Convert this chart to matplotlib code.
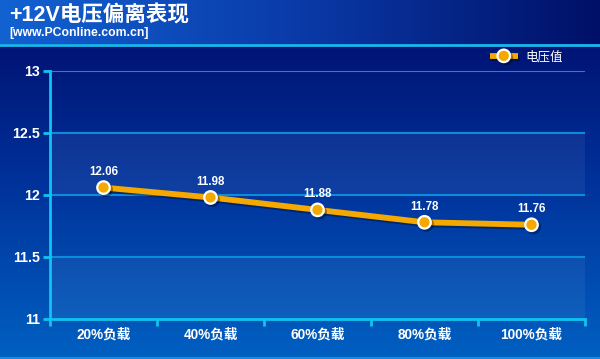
import matplotlib
matplotlib.use('Agg')
import matplotlib.pyplot as plt
import matplotlib.patheffects as pe
from matplotlib.colors import LinearSegmentedColormap
import numpy as np

plt.rcParams['font.family'] = ['Liberation Sans', 'Noto Sans CJK SC', 'DejaVu Sans']

categories = ['20%负载', '40%负载', '60%负载', '80%负载', '100%负载']
voltages = [12.06, 11.98, 11.88, 11.78, 11.76]
yticks = [11, 11.5, 12, 12.5, 13]
ytick_labels = ['11', '11.5', '12', '12.5', '13']
series_name = '电压值'
title = '+12V电压偏离表现'
subtitle = '[www.PConline.com.cn]'

W, H = 600, 359
fig = plt.figure(figsize=(W / 100, H / 100), dpi=100)

# background: vertical gradient navy -> blue
bg = fig.add_axes([0, 0, 1, 1], zorder=0)
bg_cmap = LinearSegmentedColormap.from_list('bg', ['#000a68', '#00319a', '#0060c2'])
grad = np.linspace(0, 1, 256).reshape(-1, 1)
bg.imshow(grad, aspect='auto', cmap=bg_cmap, extent=[0, 1, 0, 1], origin='upper')
bg.set_xlim(0, 1)
bg.set_ylim(0, 1)
bg.axis('off')

# header bar: horizontal gradient
hb = fig.add_axes([0, 1 - 44 / H, 1, 44 / H], zorder=1)
hb_cmap = LinearSegmentedColormap.from_list('hb', ['#1262d2', '#0a3aa8', '#001068'])
hgrad = np.linspace(0, 1, 256).reshape(1, -1)
hb.imshow(hgrad, aspect='auto', cmap=hb_cmap, extent=[0, 1, 0, 1])
hb.axis('off')
bg.axhline(1 - 44.5 / H, color='#18b8f0', lw=2)
bg.axhline(1 - 358 / H, color='#1a8ae0', lw=1.5)

fig.text(9 / W, 1 - 16 / H, title, color='white', fontsize=15.5, fontweight='bold', va='center')
fig.text(9 / W, 1 - 33 / H, subtitle, color='white', fontsize=8.8, fontweight='bold', va='center')

# plot area
ax = fig.add_axes([50 / W, 1 - 319 / H, 535 / W, 248 / H], zorder=2)
ax.patch.set_alpha(0)
x = np.arange(len(categories))
ax.set_xlim(-0.5, len(categories) - 0.5)
ax.set_ylim(11, 13)

for lo in (11, 12):
    ax.axhspan(lo, lo + 0.5, color='white', alpha=0.06, lw=0)
for y in yticks[1:]:
    ax.axhline(y, color='#0c8cdc', lw=1.5, zorder=1)

line, = ax.plot(x, voltages, color='#f5a800', lw=4.2, marker='o', markersize=9,
                markerfacecolor='#f5a800', markeredgecolor='white', markeredgewidth=1.6,
                label=series_name, zorder=5, solid_capstyle='butt')
line.set_path_effects([pe.SimpleLineShadow(offset=(1.5, -1.5), shadow_color='black', alpha=0.35),
                       pe.Normal()])

for xi, v in zip(x, voltages):
    ax.annotate(f'{v:.2f}', (xi, v), textcoords='offset points', xytext=(0, 7),
                ha='center', va='bottom', color='white', fontsize=8.3, fontweight='bold', zorder=6)

for s in ('top', 'right'):
    ax.spines[s].set_visible(False)
for s in ('left', 'bottom'):
    ax.spines[s].set_color('#10c4f0')
    ax.spines[s].set_linewidth(2)

ax.set_yticks(yticks)
ax.set_yticklabels(ytick_labels)
ax.set_xticks(np.arange(-0.5, len(categories)), minor=False)
ax.set_xticklabels([])
ax.set_xticks(x, minor=True)
ax.set_xticklabels(categories, minor=True)
ax.tick_params(axis='x', which='major', length=5, width=2, color='#10c4f0', direction='out')
ax.tick_params(axis='x', which='minor', length=0, pad=6, labelcolor='white', labelsize=9.8)
ax.tick_params(axis='y', length=5, width=2, color='#10c4f0', labelcolor='white', labelsize=10.3, pad=2)
for lbl in ax.get_yticklabels() + ax.get_xticklabels(minor=True):
    lbl.set_fontweight('bold')

leg = fig.legend(handles=[line], loc='center left', bbox_to_anchor=(485 / W, 1 - 57 / H),
                 frameon=False, fontsize=9, labelcolor='white', handlelength=2.2,
                 handletextpad=0.6, borderaxespad=0)

fig.savefig('out.png', dpi=100)
